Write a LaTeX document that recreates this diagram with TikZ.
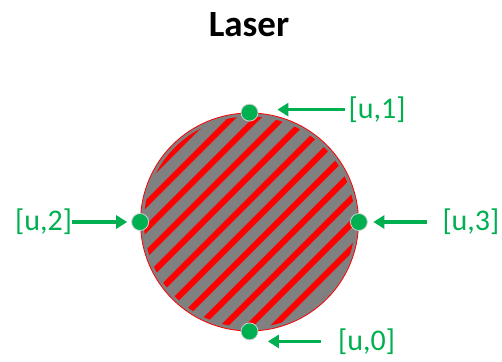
\documentclass[tikz,border=0pt]{standalone}
\usepackage{fontspec}
\setmainfont{Carlito}
\usetikzlibrary{arrows.meta, positioning, calc}
\definecolor{offgreen}{RGB}{0,176,80}
\definecolor{laserred}{RGB}{255,0,0}
\definecolor{lasergray}{RGB}{128,128,128}

\begin{document}
\begin{tikzpicture}[
  x=1pt, y=-1pt,
  title/.style={font=\fontsize{37}{44}\selectfont\bfseries, inner sep=0pt},
  spot/.style={circle, fill=offgreen, draw=gray!35, line width=0.8pt, minimum size=17pt, inner sep=0pt},
  tag/.style={font=\fontsize{30}{36}\selectfont, text=offgreen, inner sep=0pt},
  arrow/.style={-{Triangle[length=11pt, width=13pt]}, line width=3.5pt, offgreen},
  stripe/.style={laserred, line width=6pt},
]
  \useasboundingbox (0,0) rectangle (502,361);

  \node[title, anchor=base] (head) at (249,37) {Laser};

  % laser spot
  \node[circle, draw=laserred, fill=lasergray, line width=0.8pt, minimum size=218pt, inner sep=0pt] (laser) at (249.5,222) {};
  \begin{scope}
    \clip (laser.center) circle (105.5);
    \foreach \k in {-6,...,6}
      \draw[stripe] ($(laser.center)+(3.5+25*\k,0)$) +(135:170) -- +(-45:170);
  \end{scope}

  % detector points
  \node[spot] (d1) at (laser.north) {};
  \node[spot] (d2) at (laser.west) {};
  \node[spot] (d3) at (laser.east) {};
  \node[spot] (d0) at (laser.south) {};

  \node[tag, anchor=west, right=90pt of d1, yshift=3pt] (u1) {[u,1]};
  \node[tag, anchor=east, left=59pt of d2] (u2) {[u,2]};
  \node[tag, anchor=west, right=74.5pt of d3] (u3) {[u,3]};
  \node[tag, anchor=west, right=79.5pt of d0, yshift=-10pt] (u0) {[u,0]};

  \draw[arrow, shorten <=3pt, shorten >=19pt] (u1.west) -- (u1.west -| d1.east);
  \draw[arrow, shorten <=0pt, shorten >=4pt] (u2.east) -- (u2.east -| d2.west);
  \draw[arrow, shorten <=15pt, shorten >=5.5pt] (u3.west) -- (u3.west -| d3.east);
  \draw[arrow, shorten <=17pt, shorten >=9.5pt] (u0.west) -- (u0.west -| d0.east);
\end{tikzpicture}
\end{document}
